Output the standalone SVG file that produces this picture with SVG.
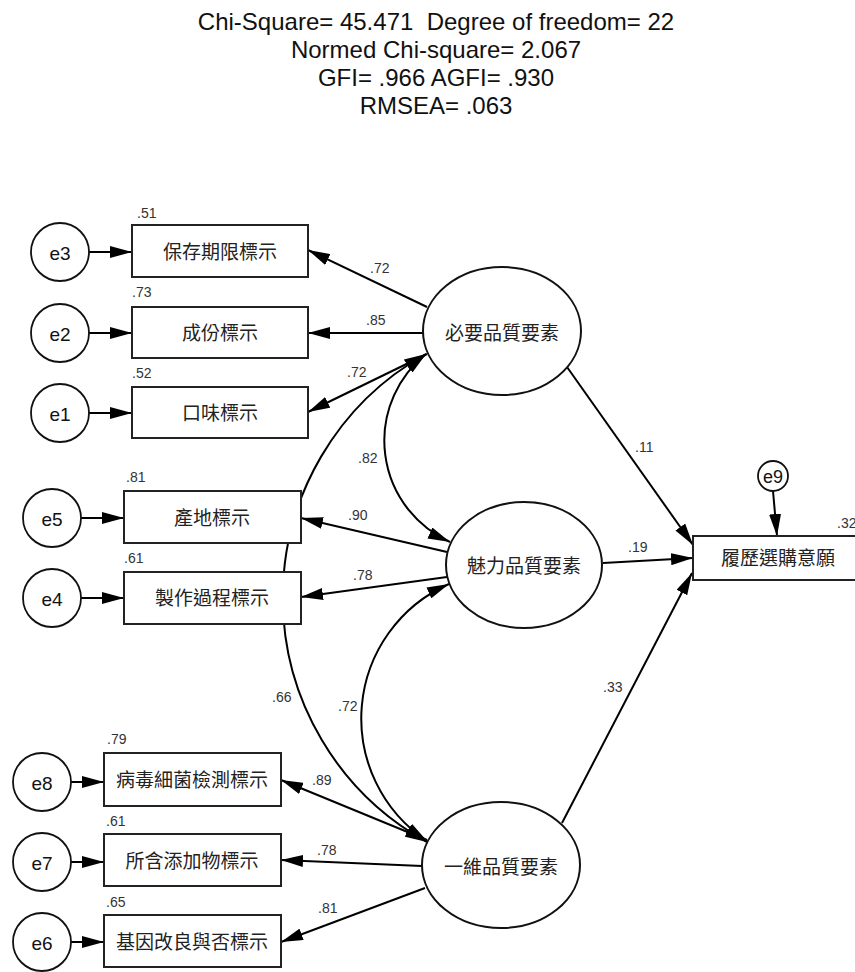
<svg xmlns="http://www.w3.org/2000/svg" width="855" height="972" viewBox="0 0 855 972">
<defs>
<marker id="ah" viewBox="0 0 22 12" refX="22" refY="6" markerWidth="22" markerHeight="12" markerUnits="userSpaceOnUse" orient="auto-start-reverse">
<path d="M0,0 L22,6 L0,12 z" fill="#000"/>
</marker>
<style>
.title{font-family:"Liberation Sans",Arial,sans-serif;font-size:24px;fill:#111;text-anchor:middle}
.box{fill:#fff;stroke:#222;stroke-width:2}
.lat{fill:#fff;stroke:#111;stroke-width:2}
.err{fill:#fff;stroke:#111;stroke-width:1.8}
.cjk{font-family:"Liberation Sans","Noto Sans CJK TC",sans-serif;font-size:19px;fill:#222;text-anchor:middle;dominant-baseline:central}
.el{font-family:"Liberation Sans",Arial,sans-serif;font-size:19px;fill:#111;text-anchor:middle;dominant-baseline:central}
.num{font-family:"Liberation Sans",Arial,sans-serif;font-size:14px;fill:#333}
.ln{fill:none;stroke:#000;stroke-width:2}
.one{marker-end:url(#ah)}
.two{marker-start:url(#ah);marker-end:url(#ah)}
</style>
</defs>
<rect width="855" height="972" fill="#fff"/>
<g id="title">
<text class="title" x="436" y="30">Chi-Square= 45.471&#160; Degree of freedom= 22</text>
<text class="title" x="436" y="58">Normed Chi-square= 2.067</text>
<text class="title" x="436" y="86">GFI= .966 AGFI= .930</text>
<text class="title" x="436" y="114">RMSEA= .063</text>
</g>
<g id="connectors">
<line class="ln one" x1="89" y1="252" x2="132" y2="252"/>
<line class="ln one" x1="89" y1="333" x2="132" y2="333"/>
<line class="ln one" x1="89" y1="413" x2="132" y2="413"/>
<line class="ln one" x1="81" y1="518" x2="124" y2="518"/>
<line class="ln one" x1="81" y1="598" x2="124" y2="598"/>
<line class="ln one" x1="71" y1="782" x2="104" y2="782"/>
<line class="ln one" x1="71" y1="862" x2="104" y2="862"/>
<line class="ln one" x1="71" y1="942" x2="104" y2="942"/>
<line class="ln one" x1="773" y1="491" x2="777" y2="536"/>
<line class="ln one" x1="427" y1="307" x2="308" y2="250"/>
<line class="ln one" x1="423" y1="333" x2="308" y2="333"/>
<line class="ln one" x1="427" y1="354" x2="308" y2="412"/>
<line class="ln one" x1="447" y1="552" x2="301" y2="518"/>
<line class="ln one" x1="447" y1="577" x2="301" y2="597"/>
<line class="ln one" x1="427" y1="840" x2="281" y2="780"/>
<line class="ln one" x1="422" y1="866" x2="281" y2="860"/>
<line class="ln one" x1="425" y1="888" x2="281" y2="942"/>
<line class="ln one" x1="567" y1="367" x2="693" y2="545"/>
<line class="ln one" x1="603" y1="563" x2="693" y2="558"/>
<line class="ln one" x1="562" y1="823" x2="692" y2="573"/>
<path class="ln two" d="M426,354 A111,111 0 0 0 450,542"/>
<path class="ln two" d="M426,354 A279,279 0 0 0 427,842"/>
<path class="ln two" d="M449,584 A147,147 0 0 0 427,841"/>
</g>
<g id="labels">
<text class="num" x="370" y="273">.72</text>
<text class="num" x="366" y="325">.85</text>
<text class="num" x="347" y="377">.72</text>
<text class="num" x="358" y="463">.82</text>
<text class="num" x="348" y="520">.90</text>
<text class="num" x="353" y="580">.78</text>
<text class="num" x="272" y="702">.66</text>
<text class="num" x="338" y="711">.72</text>
<text class="num" x="312" y="785">.89</text>
<text class="num" x="317" y="855">.78</text>
<text class="num" x="318" y="913">.81</text>
<text class="num" x="635" y="452">.11</text>
<text class="num" x="628" y="552">.19</text>
<text class="num" x="603" y="692">.33</text>
</g>
<g id="e3"><circle class="err" cx="60" cy="252" r="29"/><text class="el" x="60" y="253">e3</text></g>
<g id="e2"><circle class="err" cx="60" cy="333" r="29"/><text class="el" x="60" y="334">e2</text></g>
<g id="e1"><circle class="err" cx="60" cy="413" r="29"/><text class="el" x="60" y="414">e1</text></g>
<g id="e5"><circle class="err" cx="52" cy="518" r="29"/><text class="el" x="52" y="519">e5</text></g>
<g id="e4"><circle class="err" cx="52" cy="598" r="29"/><text class="el" x="52" y="599">e4</text></g>
<g id="e8"><circle class="err" cx="42" cy="782" r="29"/><text class="el" x="42" y="783">e8</text></g>
<g id="e7"><circle class="err" cx="42" cy="862" r="29"/><text class="el" x="42" y="863">e7</text></g>
<g id="e6"><circle class="err" cx="42" cy="942" r="29"/><text class="el" x="42" y="943">e6</text></g>
<g id="e9"><circle class="err" cx="773" cy="476" r="15"/><text class="el" x="773" y="477" style="font-size:18px">e9</text></g>
<g id="v_baocun"><rect class="box" x="132" y="225" width="176" height="52"/><text class="cjk" x="220" y="252">保存期限標示</text><text class="num" x="137" y="218">.51</text></g>
<g id="v_chengfen"><rect class="box" x="132" y="307" width="176" height="51"/><text class="cjk" x="220" y="333">成份標示</text><text class="num" x="132" y="297">.73</text></g>
<g id="v_kouwei"><rect class="box" x="132" y="387" width="176" height="51"/><text class="cjk" x="220" y="413">口味標示</text><text class="num" x="132" y="378">.52</text></g>
<g id="v_chandi"><rect class="box" x="124" y="491" width="177" height="52"/><text class="cjk" x="212" y="518">產地標示</text><text class="num" x="126" y="482">.81</text></g>
<g id="v_zhizuo"><rect class="box" x="124" y="572" width="177" height="52"/><text class="cjk" x="212" y="598">製作過程標示</text><text class="num" x="124" y="563">.61</text></g>
<g id="v_bingdu"><rect class="box" x="104" y="753" width="177" height="53"/><text class="cjk" x="192" y="780">病毒細菌檢測標示</text><text class="num" x="107" y="744">.79</text></g>
<g id="v_suohan"><rect class="box" x="104" y="834" width="177" height="52"/><text class="cjk" x="192" y="861">所含添加物標示</text><text class="num" x="106" y="826">.61</text></g>
<g id="v_jiyin"><rect class="box" x="104" y="915" width="177" height="52"/><text class="cjk" x="192" y="942">基因改良與否標示</text><text class="num" x="106" y="907">.65</text></g>
<g id="v_lvli"><rect class="box" x="693" y="536" width="172" height="44"/><text class="cjk" x="778" y="558">履歷選購意願</text><text class="num" x="837" y="528">.32</text></g>
<g id="f_biyao"><ellipse class="lat" cx="502" cy="331" rx="79" ry="64"/><text class="cjk" x="502" y="333">必要品質要素</text></g>
<g id="f_meili"><ellipse class="lat" cx="524" cy="565" rx="78" ry="63"/><text class="cjk" x="524" y="566">魅力品質要素</text></g>
<g id="f_yiwei"><ellipse class="lat" cx="501" cy="865" rx="79" ry="63"/><text class="cjk" x="501" y="867">一維品質要素</text></g>
</svg>
